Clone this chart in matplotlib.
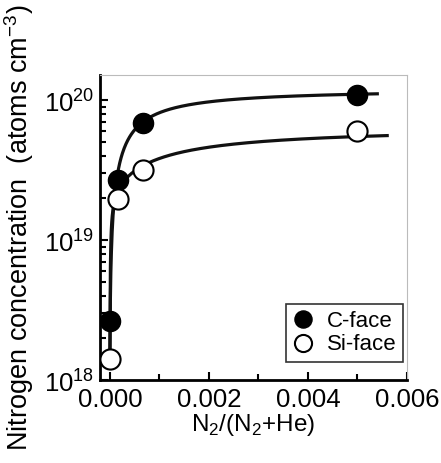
import numpy as np
import matplotlib.pyplot as plt
from matplotlib.ticker import LogLocator, MultipleLocator, FixedLocator

plt.rcParams['font.family'] = ['Liberation Sans', 'DejaVu Sans']
plt.rcParams['mathtext.fontset'] = 'custom'
plt.rcParams['mathtext.rm'] = 'Liberation Sans'

# data
ratio = [0.0, 0.00017, 0.00067, 0.0050]
c_face = [2.65e18, 2.7e19, 6.9e19, 1.1e20]
si_face = [1.41e18, 1.96e19, 3.2e19, 6.0e19]

# guide-to-the-eye saturation curves (parameters)
c_fit = dict(base=1.6e18, amp=[1.2e20], k=[0.0005], xmax=0.0054)
si_fit = dict(base=1.4e18, amp=[2.0e19, 4.4e19], k=[0.00003, 0.0015], xmax=0.0056)


def sat_curve(p, x):
    y = p['base'] + 0 * x
    for a, k in zip(p['amp'], p['k']):
        y = y + a * x / (x + k)
    return y


fig = plt.figure(figsize=(4.41, 4.63), dpi=100)
ax = fig.add_axes([0.2268, 0.1793, 0.6961, 0.6588])

for p in (c_fit, si_fit):
    xs = np.linspace(0, p['xmax'], 600)
    ax.plot(xs, sat_curve(p, xs), color='#111111', lw=2.3, zorder=2)

ax.plot(ratio, c_face, 'o', ms=14.5, mfc='black', mec='black', zorder=3,
        label='C-face')
ax.plot(ratio, si_face, 'o', ms=14.5, mfc='white', mec='black', mew=1.5,
        zorder=3, label='Si-face')

ax.set_yscale('log')
ax.set_xlim(-0.0002, 0.006)
ax.set_ylim(1e18, 1.52e20)

ax.xaxis.set_major_locator(FixedLocator([0.0, 0.002, 0.004, 0.006]))
ax.xaxis.set_minor_locator(MultipleLocator(0.001))
ax.set_xticklabels(['0.000', '0.002', '0.004', '0.006'])
ax.yaxis.set_minor_locator(LogLocator(base=10, subs=np.arange(2, 10), numticks=20))
ax.set_yticks([1e18, 1e19, 1e20])
ax.set_yticklabels([r'10$^{18}$', r'10$^{19}$', r'10$^{20}$'])

ax.tick_params(which='both', direction='in', top=False, right=False,
               labelsize=18.5, width=1.5, color='black')
ax.tick_params(which='major', length=6)
ax.tick_params(which='minor', length=4)
ax.tick_params(axis='x', which='major', pad=6)
ax.tick_params(axis='y', which='major', pad=4)

for s in ('left', 'bottom'):
    ax.spines[s].set_linewidth(2.0)
for s in ('top', 'right'):
    ax.spines[s].set_linewidth(0.8)
    ax.spines[s].set_color('#bbbbbb')

ax.set_xlabel(r'N$_2$/(N$_2$+He)', fontsize=17.5, labelpad=0)
ax.set_ylabel(r'Nitrogen concentration  (atoms cm$^{-3}$)', fontsize=19.5,
              labelpad=6)

leg = ax.legend(loc='lower right', fontsize=16, frameon=True, fancybox=False,
                edgecolor='black', handletextpad=0.55, borderpad=0.3,
                labelspacing=0.1, handlelength=1.0, markerscale=0.85,
                borderaxespad=0, bbox_to_anchor=(0.987, 0.059))
leg.get_frame().set_linewidth(1.2)

fig.savefig('out.png', dpi=100)
